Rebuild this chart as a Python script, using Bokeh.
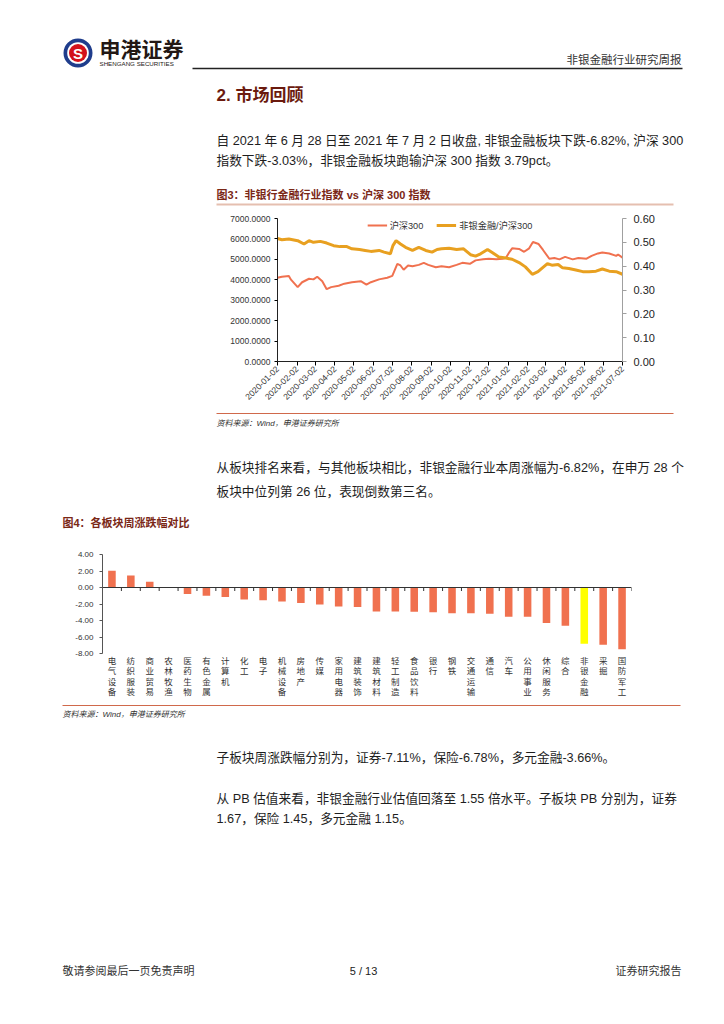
import math
import pandas as pd
from bokeh.plotting import figure
from bokeh.layouts import column
from bokeh.models import (Range1d, LinearAxis, FixedTicker, Legend, LegendItem,
                          FactorRange, PrintfTickFormatter, DatetimeTickFormatter)
from bokeh.core.properties import value
from bokeh.embed import file_html
from bokeh.resources import INLINE

# ---------------- data ----------------
hs300_dates = ["2020-01-02", "2020-01-09", "2020-01-20", "2020-01-23", "2020-02-03", "2020-02-10",
               "2020-02-21", "2020-02-28", "2020-03-05", "2020-03-13", "2020-03-20", "2020-03-27",
               "2020-04-08", "2020-04-17", "2020-04-29", "2020-05-13", "2020-05-22", "2020-05-29",
               "2020-06-11", "2020-06-24", "2020-07-02", "2020-07-10", "2020-07-15", "2020-07-20",
               "2020-07-27", "2020-08-03", "2020-08-13", "2020-08-21", "2020-08-28", "2020-09-09",
               "2020-09-18", "2020-09-30", "2020-10-12", "2020-10-21", "2020-11-02", "2020-11-11",
               "2020-11-23", "2020-12-02", "2020-12-14", "2020-12-24", "2020-12-29", "2021-01-04",
               "2021-01-08", "2021-01-19", "2021-01-27", "2021-02-04", "2021-02-10", "2021-02-19",
               "2021-02-26", "2021-03-08", "2021-03-16", "2021-03-24", "2021-04-02", "2021-04-14",
               "2021-04-23", "2021-05-06", "2021-05-14", "2021-05-24", "2021-05-31", "2021-06-11",
               "2021-06-22", "2021-06-25", "2021-07-02"]
hs300_values = [4100, 4150, 4190, 4020, 3640, 3880, 4050, 4020, 4150, 3930, 3540, 3640, 3710, 3810,
                3880, 3930, 3760, 3880, 4020, 4100, 4190, 4780, 4700, 4490, 4700, 4660, 4730, 4830,
                4730, 4610, 4660, 4610, 4730, 4830, 4780, 4950, 5000, 5030, 5000, 5030, 5070, 5370,
                5540, 5510, 5370, 5540, 5850, 5750, 5460, 5030, 5070, 5000, 5120, 5000, 5070, 5030,
                5170, 5290, 5340, 5290, 5170, 5240, 5080]

ratio_dates = ["2020-01-02", "2020-01-09", "2020-01-20", "2020-02-03", "2020-02-13", "2020-02-21",
               "2020-02-28", "2020-03-10", "2020-03-20", "2020-03-31", "2020-04-10", "2020-04-21",
               "2020-04-29", "2020-05-11", "2020-05-20", "2020-05-29", "2020-06-11", "2020-06-19",
               "2020-06-29", "2020-07-03", "2020-07-08", "2020-07-15", "2020-07-23", "2020-08-03",
               "2020-08-13", "2020-08-24", "2020-09-03", "2020-09-11", "2020-09-18", "2020-09-30",
               "2020-10-12", "2020-10-23", "2020-11-03", "2020-11-11", "2020-11-19", "2020-11-30",
               "2020-12-08", "2020-12-18", "2020-12-29", "2021-01-08", "2021-01-19", "2021-01-29",
               "2021-02-09", "2021-02-18", "2021-02-25", "2021-03-05", "2021-03-12", "2021-03-22",
               "2021-03-29", "2021-04-08", "2021-04-19", "2021-04-30", "2021-05-10", "2021-05-21",
               "2021-05-31", "2021-06-11", "2021-06-22", "2021-07-02"]
ratio_values = [0.516, 0.511, 0.514, 0.507, 0.493, 0.507, 0.500, 0.504, 0.497, 0.486, 0.482, 0.482,
                0.473, 0.470, 0.466, 0.462, 0.466, 0.459, 0.452, 0.486, 0.507, 0.493, 0.479, 0.466,
                0.479, 0.466, 0.459, 0.470, 0.473, 0.475, 0.470, 0.473, 0.448, 0.442, 0.452, 0.470,
                0.456, 0.438, 0.434, 0.429, 0.415, 0.397, 0.366, 0.377, 0.393, 0.411, 0.404, 0.407,
                0.393, 0.390, 0.384, 0.377, 0.377, 0.379, 0.388, 0.379, 0.377, 0.366]

x_tick_labels = ["2020-01-02", "2020-02-02", "2020-03-02", "2020-04-02", "2020-05-02", "2020-06-02",
                 "2020-07-02", "2020-08-02", "2020-09-02", "2020-10-02", "2020-11-02", "2020-12-02",
                 "2021-01-02", "2021-02-02", "2021-03-02", "2021-04-02", "2021-05-02", "2021-06-02",
                 "2021-07-02"]
left_ticks = [0, 1000, 2000, 3000, 4000, 5000, 6000, 7000]
right_ticks = [0.0, 0.1, 0.2, 0.3, 0.4, 0.5, 0.6]
series_names = ["沪深300", "非银金融/沪深300"]

sectors = ["电气设备", "纺织服装", "商业贸易", "农林牧渔", "医药生物", "有色金属", "计算机", "化工",
           "电子", "机械设备", "房地产", "传媒", "家用电器", "建筑装饰", "建筑材料", "轻工制造",
           "食品饮料", "银行", "钢铁", "交通运输", "通信", "汽车", "公用事业", "休闲服务", "综合",
           "非银金融", "采掘", "国防军工"]
weekly_change = [2.03, 1.46, 0.69, -0.05, -0.80, -1.00, -1.15, -1.45, -1.55, -1.70, -1.87, -2.07,
                 -2.30, -2.35, -2.90, -2.92, -2.95, -3.00, -3.12, -3.13, -3.17, -3.55, -3.55, -4.30,
                 -4.63, -6.82, -6.95, -7.48]
highlight_sector = "非银金融"
bar_ticks = [-8, -6, -4, -2, 0, 2, 4]

# ---------------- styles ----------------
W = 724
SANS = "Liberation Sans, Noto Sans CJK SC"
BROWN = "#6B1A0E"
CAP = "#7A2716"
BODY = "#1e1e1e"
ORANGE = "#F0714F"
GOLD = "#E8A020"
BODY_PX = 12.7


def page(y_top, y_bot):
    h = y_bot - y_top
    p = figure(width=W, height=h, x_range=Range1d(0, W), y_range=Range1d(y_bot, y_top),
               x_axis_location=None, y_axis_location=None, min_border=0, frame_align=False,
               toolbar_location=None, output_backend="svg", outline_line_color=None)
    p.grid.visible = False
    return p


def txt(p, x, y, s, size, color=BODY, style="normal", align="left", font=SANS):
    p.text(x=[x], y=[y], text=[s], text_font=value(font), text_font_size=value(f"{size}px"),
           text_color=color, text_font_style=style, text_align=align, text_baseline="middle")


def rule(p, x0, x1, y, color, w):
    p.segment(x0=[x0], x1=[x1], y0=[y], y1=[y], line_color=color, line_width=w)


# ---------------- page part A ----------------
pa = page(0, 206)
pa.circle(x=[77.5], y=[52.5], radius=14.5, fill_color="#1F3D8C", line_color=None)
pa.circle(x=[77.5], y=[52.5], radius=10.8, fill_color="white", line_color=None)
pa.circle(x=[77.5], y=[52.5], radius=9.0, fill_color="#D3121C", line_color=None)
txt(pa, 77.5, 53, "S", 15, color="white", style="bold", align="center")
txt(pa, 99, 49, "申港证券", 21, color="#231815", style="bold")
txt(pa, 99, 63, "SHENGANG SECURITIES", 6.2, color="#231815")
txt(pa, 681, 59, "非银金融行业研究周报", 11.5, color="#333333", align="right")
rule(pa, 192, 682, 68, "#222222", 1.5)
txt(pa, 216, 95, "2. 市场回顾", 17, color=BROWN, style="bold")
txt(pa, 216, 140, "自 2021 年 6 月 28 日至 2021 年 7 月 2 日收盘, 非银金融板块下跌-6.82%, 沪深 300", BODY_PX)
txt(pa, 216, 160, "指数下跌-3.03%，非银金融板块跑输沪深 300 指数 3.79pct。", BODY_PX)
txt(pa, 216, 194, "图3：非银行金融行业指数 vs 沪深 300 指数", 11, color=CAP, style="bold")
rule(pa, 216, 673, 204, "#E5BFB0", 2)

# ---------------- chart 1 ----------------
tick_ts = [pd.Timestamp(s) for s in x_tick_labels]
p1 = figure(width=W, height=204, x_axis_type="datetime",
            x_range=Range1d(tick_ts[0], tick_ts[-1]), y_range=Range1d(left_ticks[0], left_ticks[-1]),
            min_border_left=277, min_border_right=102, min_border_top=12, min_border_bottom=49,
            frame_align=False,
            toolbar_location=None, output_backend="svg", outline_line_color=None)
p1.grid.visible = False
p1.extra_y_ranges = {"ratio": Range1d(right_ticks[0], right_ticks[-1])}

r1 = p1.line(x=pd.to_datetime(hs300_dates), y=hs300_values, line_color=ORANGE, line_width=2)
r2 = p1.line(x=pd.to_datetime(ratio_dates), y=ratio_values, line_color=GOLD, line_width=3,
             y_range_name="ratio")

xa = p1.xaxis[0]
xa.ticker = FixedTicker(ticks=[t.value // 10**6 for t in tick_ts])
xa.formatter = DatetimeTickFormatter(days="%Y-%m-%d", months="%Y-%m-%d", years="%Y-%m-%d",
                                     hours="%Y-%m-%d", minutes="%Y-%m-%d")
xa.major_label_orientation = math.pi / 4
xa.major_label_text_font_size = "8.5px"
xa.major_label_text_font = "Liberation Sans"
xa.major_label_text_color = "#333333"
xa.major_tick_in = 0
xa.major_tick_out = 4
xa.minor_tick_line_color = None
xa.axis_line_color = "#222222"
xa.major_label_standoff = 2

ya = p1.yaxis[0]
ya.ticker = FixedTicker(ticks=left_ticks)
ya.formatter = PrintfTickFormatter(format="%.4f")
ya.major_label_text_font_size = "8.5px"
ya.major_label_text_font = "Liberation Sans"
ya.major_label_text_color = "#333333"
ya.major_tick_in = 0
ya.major_tick_out = 3
ya.minor_tick_line_color = None
ya.axis_line_color = "#222222"
ya.major_label_standoff = 4

ra = LinearAxis(y_range_name="ratio", ticker=FixedTicker(ticks=right_ticks),
                formatter=PrintfTickFormatter(format="%.2f"))
ra.major_label_text_font_size = "11px"
ra.major_label_text_font = "Liberation Sans"
ra.major_label_text_color = "#222222"
ra.axis_line_color = "#A0A0A0"
ra.major_tick_line_color = "#A0A0A0"
ra.major_tick_in = 0
ra.major_tick_out = 4
ra.minor_tick_line_color = None
ra.major_label_standoff = 7
p1.add_layout(ra, "right")

legend = Legend(items=[LegendItem(label=series_names[0], renderers=[r1]),
                       LegendItem(label=series_names[1], renderers=[r2])],
                orientation="horizontal", location="top_center", border_line_color=None,
                background_fill_alpha=0, label_text_font_size="9.2px", label_text_font=SANS,
                label_text_color="#333333", glyph_width=20, glyph_height=8, label_height=8,
                spacing=13, padding=0, margin=0, label_standoff=3)
p1.add_layout(legend)

# ---------------- page part C ----------------
pc = page(410, 545)
rule(pc, 216, 673, 413, "#D0694B", 1)
txt(pc, 216, 423, "资料来源：Wind，申港证券研究所", 8, color="#333333", style="italic")
txt(pc, 216, 467, "从板块排名来看，与其他板块相比，非银金融行业本周涨幅为-6.82%，在申万 28 个", BODY_PX)
txt(pc, 216, 491, "板块中位列第 26 位，表现倒数第三名。", BODY_PX)
txt(pc, 62, 522, "图4：各板块周涨跌幅对比", 11, color=CAP, style="bold")

# ---------------- chart 2 ----------------
PX_PER_UNIT = 99 / (bar_ticks[-1] - bar_ticks[0])
LABEL_PX = 45
p2 = figure(width=W, height=155, x_range=FactorRange(*sectors),
            y_range=Range1d(bar_ticks[0] - LABEL_PX / PX_PER_UNIT, bar_ticks[-1]),
            x_axis_location=None,
            min_border_left=102, min_border_right=93, min_border_top=9, min_border_bottom=2,
            frame_align=False,
            toolbar_location=None, output_backend="svg", outline_line_color=None)
p2.grid.visible = False
bar_colors = ["#FFFF00" if s == highlight_sector else ORANGE for s in sectors]
p2.vbar(x=sectors, top=weekly_change, width=0.4, fill_color=bar_colors, line_color=None)
bounds = list(range(len(sectors) + 1))
p2.segment(x0=[bounds[0]], x1=[bounds[-1]], y0=[0], y1=[0], line_color="#333333", line_width=1)
p2.segment(x0=bounds, x1=bounds, y0=[0] * len(bounds), y1=[-3.5 / PX_PER_UNIT] * len(bounds),
           line_color="#333333", line_width=1)

# vertical (stacked-character) category labels
lab_x, lab_y, lab_t, lab_off = [], [], [], []
for s in sectors:
    for j, ch in enumerate(s):
        lab_x.append(s)
        lab_y.append(bar_ticks[0])
        lab_t.append(ch)
        lab_off.append(2 + j * 10.6)
p2.text(x=lab_x, y=lab_y, text=lab_t, y_offset=lab_off, text_font=value(SANS),
        text_font_size=value("8.5px"), text_color="#333333", text_align="center",
        text_baseline="top")

yb = p2.yaxis[0]
yb.ticker = FixedTicker(ticks=bar_ticks)
yb.formatter = PrintfTickFormatter(format="%.2f")
yb.bounds = (bar_ticks[0], bar_ticks[-1])
yb.major_label_text_font_size = "8px"
yb.major_label_text_font = "Liberation Sans"
yb.major_label_text_color = "#333333"
yb.axis_line_color = "#555555"
yb.major_tick_line_color = "#555555"
yb.major_tick_in = 0
yb.major_tick_out = 3
yb.minor_tick_line_color = None
yb.major_label_standoff = 6

# ---------------- page part E ----------------
pe = page(700, 1024)
rule(pe, 62, 680, 705, "#D0694B", 1)
txt(pe, 62, 714, "资料来源：Wind，申港证券研究所", 8, color="#333333", style="italic")
txt(pe, 216, 757, "子板块周涨跌幅分别为，证券-7.11%，保险-6.78%，多元金融-3.66%。", BODY_PX)
txt(pe, 216, 798, "从 PB 估值来看，非银金融行业估值回落至 1.55 倍水平。子板块 PB 分别为，证券", BODY_PX)
txt(pe, 216, 818, "1.67，保险 1.45，多元金融 1.15。", BODY_PX)
txt(pe, 62, 970, "敬请参阅最后一页免责声明", 11, color="#333333")
txt(pe, 363, 970, "5 / 13", 11, color="#222222", align="center")
txt(pe, 681, 970, "证券研究报告", 11, color="#333333", align="right")

layout = column(pa, p1, pc, p2, pe, spacing=0)
open("out.html", "w").write(file_html(layout, INLINE))
